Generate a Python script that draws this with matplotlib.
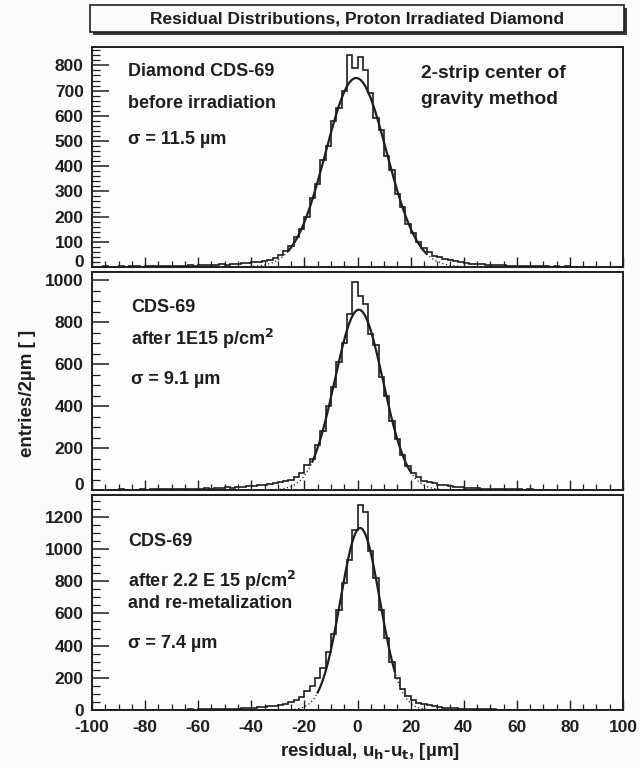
import numpy as np
import matplotlib.pyplot as plt
from matplotlib.ticker import MultipleLocator, AutoMinorLocator, FuncFormatter
from matplotlib.patches import Rectangle

plt.rcParams['font.family'] = ['Liberation Sans', 'DejaVu Sans']
plt.rcParams['font.weight'] = 'bold'
plt.rcParams['axes.unicode_minus'] = False

# =========================
# Data: 2 um bins from -100 to 100 um
# =========================
edges = np.arange(-100, 101, 2)

# before irradiation
counts_1 = [1, 0, 2, 1, 0, 2, 1, 3, 2, 1, 2, 3, 2, 4, 3, 3, 5, 4, 6, 5,
            6, 7, 8, 7, 10, 9, 12, 11, 14, 16,
            18, 20, 24, 28, 35, 48, 62, 85, 118, 150,
            200, 275, 330, 425, 480, 580, 630, 700, 840, 790,
            835, 780, 690, 590, 545, 440, 385, 290, 240, 170,
            135, 100, 75, 58, 45, 38, 32, 26, 22, 18,
            15, 13, 12, 10, 9, 8, 6, 7, 5, 4,
            4, 3, 3, 2, 3, 2, 1, 2, 1, 2, 1, 0, 1, 1, 0, 1, 0, 1, 0, 1]

# after 1E15 p/cm2
counts_2 = [2, 1, 0, 2, 1, 3, 1, 2, 2, 3, 2, 4, 3, 3, 4, 5, 4, 6, 5, 7,
            6, 8, 7, 9, 10, 12, 11, 14, 16, 18,
            20, 22, 25, 28, 32, 38, 42, 50, 62, 80,
            120, 150, 215, 280, 400, 490, 610, 700, 840, 990,
            925, 885, 745, 690, 540, 450, 330, 245, 165, 115,
            80, 60, 45, 38, 32, 26, 22, 18, 15, 12,
            10, 9, 8, 7, 6, 5, 5, 4, 4, 3,
            3, 2, 3, 2, 1, 2, 1, 1, 2, 1, 0, 1, 1, 0, 1, 0, 1, 0, 1, 0]

# after 2.2E15 p/cm2 and re-metalization
counts_3 = [1, 0, 1, 2, 0, 1, 2, 1, 0, 2, 1, 2, 1, 3, 2, 2, 3, 2, 4, 3,
            4, 5, 4, 6, 5, 7, 8, 8, 10, 12,
            14, 16, 18, 22, 25, 30, 38, 48, 62, 80,
            115, 150, 200, 260, 360, 470, 620, 790, 930, 1120,
            1270, 1230, 990, 820, 620, 450, 300, 200, 130, 90,
            60, 45, 35, 28, 22, 18, 14, 12, 10, 8,
            7, 6, 5, 5, 4, 4, 3, 3, 2, 3,
            2, 1, 2, 1, 1, 0, 1, 2, 0, 1, 1, 0, 1, 0, 0, 1, 0, 1, 0, 0]

# gaussian fit parameters: amplitude, mean, sigma, fit range
fit_amp = [750, 860, 1130]
fit_mean = [-0.5, 0.5, 1.0]
fit_sigma = [11.5, 9.1, 7.4]
fit_lo = [-26, -17, -15]
fit_hi = [26, 20, 14]

y_max = [873, 1040, 1335]
y_major = [100, 200, 200]

labels_left = [
    ["Diamond CDS-69", "before irradiation", "\u03c3 = 11.5 \u00b5m"],
    ["CDS-69", "after 1E15 p/cm$^\\mathbf{2}$", "\u03c3 = 9.1 \u00b5m"],
    ["CDS-69", "after 2.2 E 15 p/cm$^\\mathbf{2}$", "and re-metalization", "\u03c3 = 7.4 \u00b5m"],
]
label_y = [[71, 103, 139], [307, 339, 379], [542, 581, 604, 643]]
label_x = [128, 131, 128]

all_counts = [counts_1, counts_2, counts_3]

# =========================
# Figure
# =========================
W, H = 640, 767
bg = '#fbfbfa'
fig = plt.figure(figsize=(W / 100, H / 100), dpi=100)
fig.patch.set_facecolor(bg)

ink = '#1e1e1e'
ax_px = [(47, 267), (272, 490), (495, 710)]
left, right = 92, 623
ypad = 6


def no_zero(v, pos):
    return "" if abs(v) < 1e-9 else f"{v:.0f}"


for i in range(3):
    top, bot = ax_px[i]
    ax = fig.add_axes([left / W, 1 - bot / H, (right - left) / W, (bot - top) / H])
    ax.set_facecolor('#fdfdfc')
    ax.stairs(all_counts[i], edges, color=ink, lw=1.2)

    x = np.linspace(-100, 100, 2001)
    g = fit_amp[i] * np.exp(-(x - fit_mean[i]) ** 2 / (2 * fit_sigma[i] ** 2))
    inside = (x >= fit_lo[i]) & (x <= fit_hi[i])
    ax.plot(x[inside], g[inside], color=ink, lw=1.6)
    ax.plot(x[x <= fit_lo[i]], g[x <= fit_lo[i]], color=ink, lw=0.9, ls=(0, (1, 2)))
    ax.plot(x[x >= fit_hi[i]], g[x >= fit_hi[i]], color=ink, lw=0.9, ls=(0, (1, 2)))

    ax.set_xlim(-100, 100)
    ax.set_ylim(0, y_max[i])
    ax.xaxis.set_major_locator(MultipleLocator(20))
    ax.xaxis.set_minor_locator(MultipleLocator(5))
    ax.yaxis.set_major_locator(MultipleLocator(y_major[i]))
    ax.yaxis.set_minor_locator(AutoMinorLocator(5 if i == 0 else 4))
    ax.tick_params(which='both', direction='in', top=False, right=False, color=ink)
    ax.tick_params(axis='y', which='major', length=12, width=1.1)
    ax.tick_params(axis='y', which='minor', length=6, width=0.9)
    ax.tick_params(axis='x', which='major', length=7, width=1.0)
    ax.tick_params(axis='x', which='minor', length=4, width=0.9)
    ax.tick_params(axis='y', labelsize=12.5, pad=ypad, labelcolor=ink)
    ax.tick_params(axis='x', labelsize=12.5, pad=7, labelcolor=ink)
    for s in ax.spines.values():
        s.set_linewidth(1.4)
        s.set_color(ink)
    if i < 2:
        ax.tick_params(axis='x', labelbottom=False)
        # zero label nudged up so it does not collide with the pad below
        ax.yaxis.set_major_formatter(FuncFormatter(no_zero))
        ax.annotate("0", xy=(0, 0), xycoords='axes fraction', xytext=(-ypad, 3),
                    textcoords='offset points', ha='right', va='center',
                    fontsize=12.5, fontweight='bold', color=ink)
    for lab in ax.get_yticklabels() + ax.get_xticklabels():
        lab.set_fontweight('bold')

    for txt, yy in zip(labels_left[i], label_y[i]):
        fig.text(label_x[i] / W, 1 - yy / H, txt, fontsize=13, fontweight='bold',
                 color=ink, va='center', ha='left')

fig.text(421 / W, 1 - 73 / H, "2-strip center of", fontsize=13.8,
         fontweight='bold', color=ink, va='center', ha='left')
fig.text(421 / W, 1 - 100 / H, "gravity method", fontsize=13.8,
         fontweight='bold', color=ink, va='center', ha='left')

# title box with shadow
fig.patches.append(Rectangle((93 / W, 1 - 35 / H), 534 / W, 27 / H,
                             transform=fig.transFigure, facecolor='#3a3a3a',
                             edgecolor='none'))
fig.patches.append(Rectangle((90 / W, 1 - 32 / H), 534 / W, 27 / H,
                             transform=fig.transFigure, facecolor=bg,
                             edgecolor=ink, lw=1.2))
fig.text(357 / W, 1 - 19 / H, "Residual Distributions, Proton Irradiated Diamond",
         fontsize=12.5, fontweight='bold', color=ink, ha='center', va='center')

fig.text(27 / W, 1 - 393 / H, "entries/2\u00b5m [ ]", rotation=90, fontsize=13.5,
         fontweight='bold', color=ink, ha='center', va='center')
fig.text(370 / W, 1 - 752 / H, "residual, u$_\\mathbf{h}$-u$_\\mathbf{t}$, [\u00b5m]",
         fontsize=13.5, fontweight='bold', color=ink, ha='center', va='center')

fig.savefig("out.png", dpi=100, facecolor=fig.get_facecolor())
